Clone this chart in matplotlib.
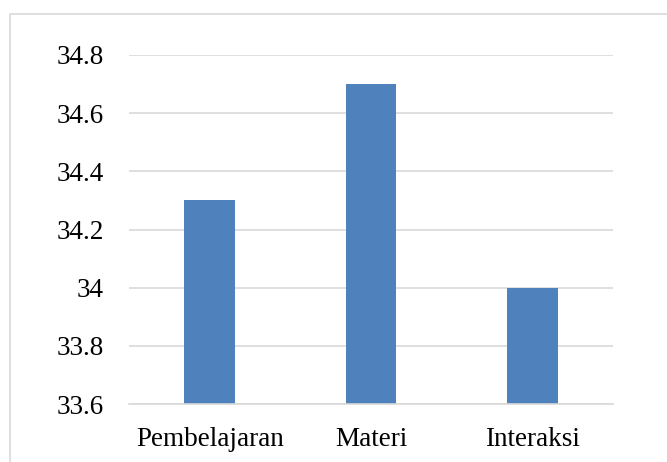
import matplotlib.pyplot as plt
from matplotlib.patches import Rectangle

categories = ['Pembelajaran', 'Materi', 'Interaksi']
values = [34.3, 34.7, 34.0]
yticks = [33.6, 33.8, 34.0, 34.2, 34.4, 34.6, 34.8]
ytick_labels = ['33.6', '33.8', '34', '34.2', '34.4', '34.6', '34.8']

plt.rcParams['font.family'] = ['Liberation Serif', 'DejaVu Serif']

W, H = 667, 462
fig = plt.figure(figsize=(W / 100, H / 100), dpi=100)
ax = fig.add_axes([129 / W, 1 - 404 / H, (613 - 129) / W, (404 - 55) / H])

# outer chart border (Excel style)
fig.patches.append(Rectangle((9.5 / W, -0.05), 1.0, 1 - 13.5 / H + 0.05,
                             transform=fig.transFigure, fill=False,
                             edgecolor='#D9D9D9', lw=1.2))

x = range(len(categories))
ax.bar(x, values, width=0.316, color='#4F81BD', zorder=3)

ax.set_xlim(-0.5, len(categories) - 0.5)
ax.set_ylim(33.6, 34.8)
ax.set_yticks(yticks)
ax.set_yticklabels(ytick_labels)
ax.set_xticks(list(x))
ax.set_xticklabels(categories)

ax.grid(axis='y', color='#D9D9D9', lw=1.2, zorder=0)
ax.set_axisbelow(True)
for s in ['left', 'right', 'top']:
    ax.spines[s].set_visible(False)
ax.spines['bottom'].set_color('#D9D9D9')
ax.spines['bottom'].set_linewidth(1.2)
ax.spines['bottom'].set_zorder(4)

ax.tick_params(axis='both', length=0, labelsize=19.5, colors='black')
ax.tick_params(axis='y', pad=18)
ax.tick_params(axis='x', pad=16.5)

plt.savefig('out.png', dpi=100)
